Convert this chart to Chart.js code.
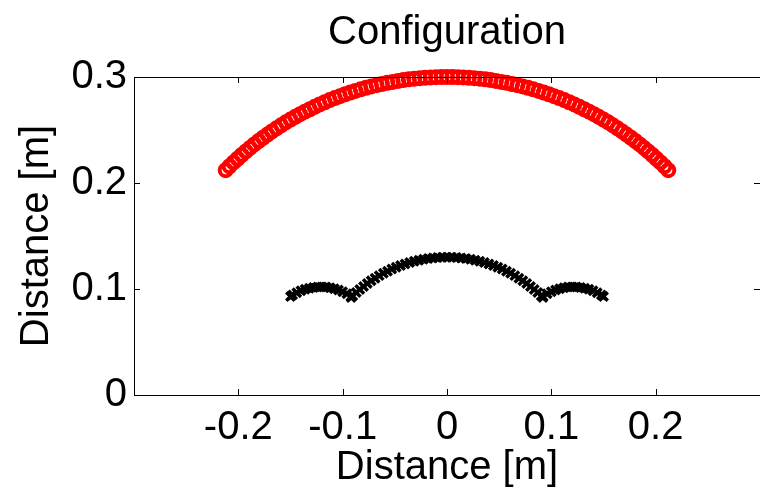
<!DOCTYPE html>
<html>
<head>
<meta charset="utf-8">
<script src="https://cdn.jsdelivr.net/npm/chart.js@4"></script>
<style>
  body { margin: 0; background: #fff; }
</style>
</head>
<body>
<canvas id="configChart" width="770" height="489"></canvas>
<script>
// Outer arc (red circles)
const redX = [-0.2121,-0.2084,-0.2046,-0.2007,-0.1968,-0.1928,-0.1888,-0.1847,-0.1805,-0.1763,-0.1721,-0.1678,-0.1634,-0.1590,-0.1545,-0.1500,-0.1454,-0.1408,-0.1362,-0.1315,-0.1268,-0.1220,-0.1172,-0.1124,-0.1075,-0.1026,-0.0977,-0.0927,-0.0877,-0.0827,-0.0776,-0.0726,-0.0675,-0.0624,-0.0572,-0.0521,-0.0469,-0.0418,-0.0366,-0.0314,-0.0261,-0.0209,-0.0157,-0.0105,-0.0052,0,0.0052,0.0105,0.0157,0.0209,0.0261,0.0314,0.0366,0.0418,0.0469,0.0521,0.0572,0.0624,0.0675,0.0726,0.0776,0.0827,0.0877,0.0927,0.0977,0.1026,0.1075,0.1124,0.1172,0.1220,0.1268,0.1315,0.1362,0.1408,0.1454,0.1500,0.1545,0.1590,0.1634,0.1678,0.1721,0.1763,0.1805,0.1847,0.1888,0.1928,0.1968,0.2007,0.2046,0.2084,0.2121];
const redY = [0.2121,0.2158,0.2194,0.2229,0.2264,0.2298,0.2331,0.2364,0.2396,0.2427,0.2457,0.2487,0.2516,0.2544,0.2572,0.2598,0.2624,0.2649,0.2673,0.2696,0.2719,0.2741,0.2762,0.2782,0.2801,0.2819,0.2837,0.2853,0.2869,0.2884,0.2898,0.2911,0.2923,0.2934,0.2945,0.2954,0.2963,0.2971,0.2978,0.2984,0.2989,0.2993,0.2996,0.2998,0.3000,0.3000,0.3000,0.2998,0.2996,0.2993,0.2989,0.2984,0.2978,0.2971,0.2963,0.2954,0.2945,0.2934,0.2923,0.2911,0.2898,0.2884,0.2869,0.2853,0.2837,0.2819,0.2801,0.2782,0.2762,0.2741,0.2719,0.2696,0.2673,0.2649,0.2624,0.2598,0.2572,0.2544,0.2516,0.2487,0.2457,0.2427,0.2396,0.2364,0.2331,0.2298,0.2264,0.2229,0.2194,0.2158,0.2121];

// Inner curve (black crosses): left lobe, middle arc, right lobe
const blackX = [-0.150,-0.148,-0.144,-0.140,-0.136,-0.132,-0.128,-0.124,-0.120,-0.116,-0.112,-0.108,-0.104,-0.100,-0.096,-0.092,
  -0.0919,-0.0903,-0.0870,-0.0836,-0.0800,-0.0764,-0.0727,-0.0689,-0.0650,-0.0610,-0.0570,-0.0529,-0.0487,-0.0445,-0.0402,-0.0358,-0.0314,-0.0270,-0.0226,-0.0181,-0.0136,-0.0091,-0.0045,0,0.0045,0.0091,0.0136,0.0181,0.0226,0.0270,0.0314,0.0358,0.0402,0.0445,0.0487,0.0529,0.0570,0.0610,0.0650,0.0689,0.0727,0.0764,0.0800,0.0836,0.0870,0.0903,0.0919,
  0.092,0.096,0.100,0.104,0.108,0.112,0.116,0.120,0.124,0.128,0.132,0.136,0.140,0.144,0.148,0.150];
const blackY = [0.0930,0.0943,0.0965,0.0983,0.0997,0.1008,0.1015,0.1019,0.1020,0.1018,0.1012,0.1003,0.0991,0.0975,0.0955,0.0930,
  0.0919,0.0935,0.0966,0.0996,0.1024,0.1052,0.1078,0.1102,0.1126,0.1148,0.1168,0.1188,0.1205,0.1222,0.1236,0.1250,0.1261,0.1272,0.1280,0.1287,0.1293,0.1297,0.1299,0.1300,0.1299,0.1297,0.1293,0.1287,0.1280,0.1272,0.1261,0.1250,0.1236,0.1222,0.1205,0.1188,0.1168,0.1148,0.1126,0.1102,0.1078,0.1052,0.1024,0.0996,0.0966,0.0935,0.0919,
  0.0930,0.0955,0.0975,0.0991,0.1003,0.1012,0.1018,0.1020,0.1019,0.1015,0.1008,0.0997,0.0983,0.0965,0.0943,0.0930];

const xTicks = [-0.2, -0.1, 0, 0.1, 0.2];
const yTicks = [0, 0.1, 0.2, 0.3];

const FONT = "'Liberation Sans', Arial, Helvetica, sans-serif";

// MATLAB-style box: top/left/bottom lines with inward ticks on all sides
// (the right edge of the box falls just outside the canvas)
const boxPlugin = {
  id: 'boxAxes',
  afterDraw(chart) {
    const { ctx, chartArea: a, scales } = chart;
    const len = 6;
    ctx.save();
    ctx.strokeStyle = '#000';
    ctx.lineWidth = 1;
    ctx.beginPath();
    ctx.moveTo(a.left + 0.5, a.bottom + 0.5);
    ctx.lineTo(a.left + 0.5, a.top + 0.5);
    ctx.lineTo(a.right, a.top + 0.5);
    ctx.moveTo(a.left + 0.5, a.bottom + 0.5);
    ctx.lineTo(a.right, a.bottom + 0.5);
    xTicks.forEach(v => {
      const px = Math.round(scales.x.getPixelForValue(v)) + 0.5;
      ctx.moveTo(px, a.bottom);
      ctx.lineTo(px, a.bottom - len);
      ctx.moveTo(px, a.top);
      ctx.lineTo(px, a.top + len);
    });
    yTicks.forEach(v => {
      const py = Math.round(scales.y.getPixelForValue(v)) + 0.5;
      ctx.moveTo(a.left, py);
      ctx.lineTo(a.left + len, py);
      ctx.moveTo(a.right, py);
      ctx.lineTo(a.right - len, py);
    });
    ctx.stroke();
    ctx.restore();
  }
};

new Chart(document.getElementById('configChart'), {
  type: 'scatter',
  data: {
    datasets: [{
      label: 'outer',
      data: redX.map((x, i) => ({ x: x, y: redY[i] })),
      pointStyle: 'circle',
      pointRadius: 6,
      pointBorderWidth: 4,
      borderColor: '#ff0000',
      backgroundColor: 'rgba(255,255,255,0)',
      clip: false
    }, {
      label: 'inner',
      data: blackX.map((x, i) => ({ x: x, y: blackY[i] })),
      pointStyle: 'crossRot',
      pointRadius: 6,
      pointBorderWidth: 3.5,
      borderColor: '#000000',
      backgroundColor: '#000000',
      clip: false
    }]
  },
  options: {
    responsive: false,
    animation: false,
    layout: { padding: 0 },
    plugins: {
      legend: { display: false },
      tooltip: { enabled: false },
      title: {
        display: true,
        text: 'Configuration',
        fullSize: false,
        color: '#000',
        font: { family: FONT, size: 40, weight: 'normal' },
        padding: { top: 9, bottom: 20 }
      }
    },
    scales: {
      x: {
        type: 'linear',
        min: -0.3,
        max: 0.3,
        grid: { display: false, drawTicks: false },
        border: { display: false },
        afterBuildTicks: s => { s.ticks = xTicks.map(v => ({ value: v })); },
        afterFit: s => { s.height = 94; },
        ticks: {
          autoSkip: false,
          maxRotation: 0,
          padding: 9,
          color: '#000',
          font: { family: FONT, size: 40 },
          callback: v => String(v)
        },
        title: {
          display: true,
          text: 'Distance [m]',
          color: '#000',
          font: { family: FONT, size: 40 },
          padding: { top: 0, bottom: -3 }
        }
      },
      y: {
        type: 'linear',
        min: 0,
        max: 0.3,
        grid: { display: false, drawTicks: false },
        border: { display: false },
        afterBuildTicks: s => { s.ticks = yTicks.map(v => ({ value: v })); },
        afterFit: s => { s.width = 134; },
        ticks: {
          autoSkip: false,
          padding: 7,
          color: '#000',
          font: { family: FONT, size: 40 },
          callback: v => String(v)
        },
        title: {
          display: true,
          text: 'Distance [m]',
          color: '#000',
          font: { family: FONT, size: 40 },
          padding: { top: 13, bottom: 0 }
        }
      }
    }
  },
  plugins: [boxPlugin]
});
</script>
</body>
</html>
